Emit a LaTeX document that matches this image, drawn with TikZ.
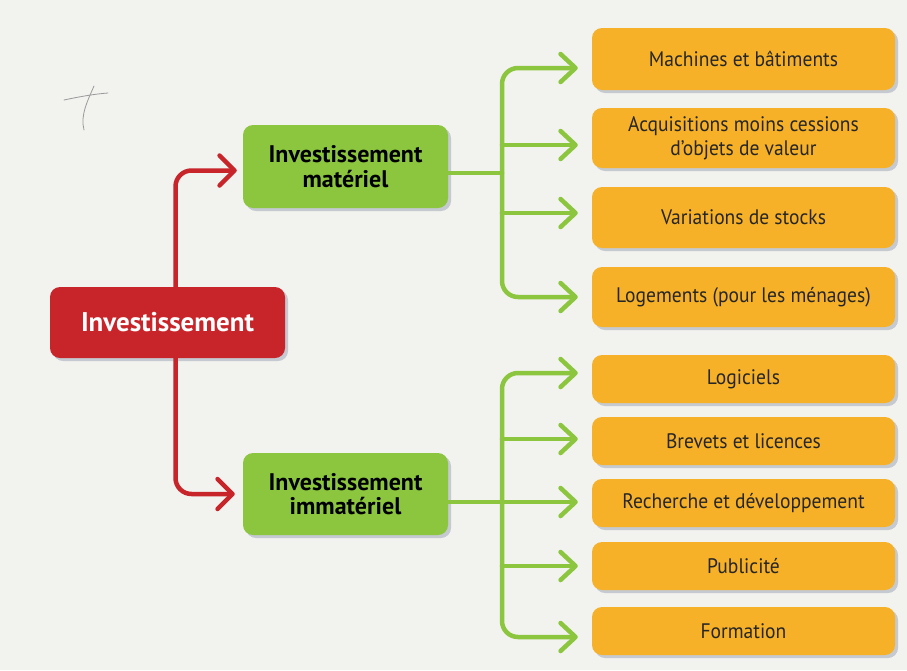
\documentclass[tikz,border=0pt]{standalone}
\usepackage{fontspec}
\setmainfont{PT Sans}
\newfontfamily\ofont[FakeStretch=0.93]{PT Sans}
\usetikzlibrary{arrows.meta,shadows,calc}
\definecolor{bg}{HTML}{F2F2EF}
\definecolor{rouge}{HTML}{C8252B}
\definecolor{vert}{HTML}{8CC63F}
\definecolor{boxor}{HTML}{F6B128}
\definecolor{ombre}{HTML}{C5C9D0}
\definecolor{crayon}{HTML}{9A9A9A}
\begin{document}
\begin{tikzpicture}[x=1pt,y=-1pt,
  shadowed/.style={drop shadow={shadow xshift=3pt,shadow yshift=-3pt,fill=ombre,opacity=1}},
  rbox/.style={shadowed,fill=rouge,text=white,rounded corners=10pt,minimum width=235pt,minimum height=71pt,inner sep=0pt,font=\fontsize{27}{30}\selectfont\bfseries},
  gbox/.style={shadowed,fill=vert,text=black,rounded corners=10pt,minimum width=205pt,minimum height=83pt,inner sep=0pt,align=center,font=\fontsize{24}{24.5}\selectfont\bfseries},
  obox/.style={shadowed,fill=boxor,text=black!85,rounded corners=10pt,minimum width=303pt,inner sep=0pt,align=center,font=\ofont\fontsize{21}{24}\selectfont},
  rarrow/.style={draw=rouge,line width=4.5pt,rounded corners=16pt,line cap=round,-{Straight Barb[length=15pt,width=30pt,round]}},
  gline/.style={draw=vert,line width=4.5pt},
  garrow/.style={draw=vert,line width=4.5pt,rounded corners=16pt,line cap=round,-{Straight Barb[length=15pt,width=28pt,round]}}
]
\useasboundingbox (0,0) rectangle (907,670);
\fill[bg] (0,0) rectangle (907,670);
% pencil mark
\draw[crayon,line width=0.8pt,line cap=round] (64,100) .. controls (78,97) and (94,94) .. (108,93);
\draw[crayon,line width=0.8pt,line cap=round] (94,86) .. controls (88,100) and (80,115) .. (84,130);

% nodes
\node[rbox] (inv) at (167.5,322.5) {Investissement};
\node[gbox] (mat) at (345.5,166.5) {Investissement\\matériel};
\node[gbox,minimum height=82pt] (imm) at (345.5,494) {Investissement\\immatériel};

\node[obox,minimum height=62pt] (m1) at (743.5,59) {Machines et bâtiments};
\node[obox,minimum height=60pt] (m2) at (743.5,138) {Acquisitions moins cessions\\d’objets de valeur};
\node[obox,minimum height=61pt] (m3) at (743.5,217.5) {Variations de stocks};
\node[obox,minimum height=60pt] (m4) at (743.5,297) {Logements (pour les ménages)};

\node[obox,minimum height=48pt] (l1) at (743.5,379) {Logiciels};
\node[obox,minimum height=48pt] (l2) at (743.5,441) {Brevets et licences};
\node[obox,minimum height=48pt] (l3) at (743.5,503) {Recherche et développement};
\node[obox,minimum height=48pt] (l4) at (743.5,566) {Publicité};
\node[obox,minimum height=48pt] (l5) at (743.5,631) {Formation};

% red connectors
\draw[rarrow] ($(inv.north)+(8,0)$) |- ($(mat.west)+(-6,4)$);
\draw[rarrow] ($(inv.south)+(8,0)$) |- ($(imm.west)+(-8,0)$);

% upper green tree
\coordinate (bu) at (502,173);
\coordinate (t1) at ($(m1.west)+(-14,9)$);
\coordinate (t2) at ($(m2.west)+(-14,7)$);
\coordinate (t3) at ($(m3.west)+(-14,-4.5)$);
\coordinate (t4) at ($(m4.west)+(-14,0)$);
\draw[gline] (mat.east |- bu) -- (bu);
\draw[garrow] (bu) |- (t1);
\draw[garrow] (bu |- t2) -- (t2);
\draw[garrow] (bu |- t3) -- (t3);
\draw[garrow] (bu) |- (t4);

% lower green tree
\coordinate (bl) at (502,502);
\coordinate (t5) at ($(l1.west)+(-14,-6)$);
\coordinate (t6) at ($(l2.west)+(-14,-2)$);
\coordinate (t7) at ($(l3.west)+(-14,-1)$);
\coordinate (t8) at ($(l4.west)+(-14,0)$);
\coordinate (t9) at ($(l5.west)+(-14,6)$);
\draw[gline] (imm.east |- bl) -- (bl);
\draw[garrow] (bl) |- (t5);
\draw[garrow] (bl |- t6) -- (t6);
\draw[garrow] (bl) -- (t7);
\draw[garrow] (bl |- t8) -- (t8);
\draw[garrow] (bl) |- (t9);
\end{tikzpicture}
\end{document}
